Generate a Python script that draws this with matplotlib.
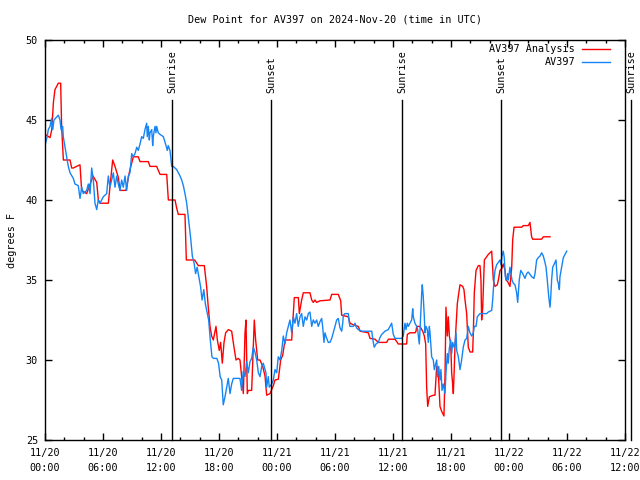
import numpy as np
import matplotlib
matplotlib.use("Agg")
import matplotlib.pyplot as plt
import matplotlib.dates as mdates

plt.rcParams["font.family"] = "DejaVu Sans Mono"
FS = 7.3

# Data =====================================================
START = np.datetime64("2024-11-20T00:00")

# hours since START, dew point in degrees F
analysis_hours = [
    0.0, 0.52, 0.7, 0.87, 1.03, 1.38, 1.62, 1.72, 1.9, 2.59,
    2.76, 2.93, 3.62, 3.79, 4.31, 4.97, 5.35, 5.52, 5.69, 6.55,
    6.72, 7.0, 7.24, 7.59, 7.76, 8.38, 8.62, 8.79, 8.97, 9.14,
    9.65, 9.83, 10.69, 10.86, 11.55, 11.9, 12.59, 12.76, 13.45, 13.62,
    13.79, 14.48, 14.62, 15.48, 15.86, 16.48, 16.72, 16.89, 17.07, 17.24,
    17.41, 17.69, 17.83, 18.03, 18.17, 18.34, 18.52, 18.69, 18.97, 19.31,
    19.55, 19.76, 20.0, 20.17, 20.34, 20.52, 20.69, 20.79, 20.93, 21.03,
    21.38, 21.55, 21.65, 21.79, 22.0, 22.24, 22.52, 22.76, 22.93, 23.28,
    23.62, 23.79, 24.14, 24.38, 24.59, 24.83, 25.52, 25.69, 25.79, 26.03,
    26.21, 26.31, 26.55, 26.72, 27.41, 27.59, 27.76, 27.93, 28.1, 28.45,
    29.48, 29.66, 30.34, 30.59, 30.69, 31.38, 31.55, 31.9, 32.41, 32.59,
    33.45, 33.62, 34.14, 34.48, 35.34, 35.52, 36.21, 36.55, 37.41, 37.48,
    37.76, 38.28, 38.38, 38.45, 38.79, 39.07, 39.24, 39.38, 39.48, 39.59,
    39.76, 40.17, 40.34, 40.52, 40.69, 40.86, 41.03, 41.27, 41.38, 41.48,
    41.62, 41.72, 41.83, 41.97, 42.07, 42.17, 42.24, 42.31, 42.41, 42.52,
    42.65, 42.76, 42.93, 43.21, 43.34, 43.45, 43.62, 43.79, 43.97, 44.24,
    44.31, 44.41, 44.59, 44.83, 45.0, 45.1, 45.17, 45.28, 45.45, 45.62,
    45.86, 46.21, 46.38, 46.55, 46.79, 46.9, 47.07, 47.24, 47.41, 47.59,
    47.69, 47.86, 48.1, 48.28, 48.38, 48.52, 49.31, 49.48, 50.0, 50.17,
    50.34, 50.45, 51.38, 51.55, 52.24,
]
analysis_dewpt = [
    44.1, 43.9, 44.4, 46.1, 46.9, 47.3, 47.3, 44.6, 42.5, 42.5,
    42.0, 42.0, 42.2, 40.6, 40.4, 41.5, 41.1, 40.0, 39.8, 39.8,
    40.8, 42.5, 42.1, 41.4, 40.6, 40.6, 41.4, 41.9, 42.3, 42.7,
    42.7, 42.4, 42.4, 42.1, 42.1, 41.6, 41.6, 40.0, 40.0, 39.5,
    39.1, 39.1, 36.25, 36.25, 35.9, 35.9, 34.6, 33.3, 32.1, 31.5,
    31.25, 32.1, 31.25, 30.6, 31.1, 29.8, 31.1, 31.7, 31.9, 31.8,
    30.8, 30.0, 30.1, 30.0, 29.0, 27.9, 31.7, 32.5, 27.9, 28.1,
    28.1, 30.8, 32.5, 31.25, 30.0, 30.0, 29.6, 29.0, 27.8, 27.9,
    28.4, 28.75, 28.8, 30.0, 30.3, 31.25, 31.25, 32.9, 33.9, 33.9,
    33.9, 32.9, 33.75, 34.2, 34.2, 33.75, 33.6, 33.75, 33.6, 33.7,
    33.75, 34.1, 34.1, 33.7, 32.8, 32.7, 32.3, 32.2, 32.1, 31.8,
    31.7, 31.35, 31.3, 31.1, 31.1, 31.3, 31.3, 31.0, 31.0, 31.6,
    31.7, 31.7, 31.8, 32.1, 32.1, 31.8, 31.5, 31.0, 28.3, 27.1,
    27.7, 27.8, 27.8, 29.6, 29.2, 27.1, 26.8, 26.5, 29.0, 33.3,
    31.5, 32.7, 31.5, 31.0, 29.2, 28.5, 27.9, 29.0, 30.8, 32.1,
    33.5, 34.0, 34.7, 34.6, 34.4, 33.75, 32.9, 30.8, 30.5, 30.5,
    31.7, 34.2, 35.6, 35.9, 35.9, 35.0, 32.5, 33.3, 36.25, 36.4,
    36.6, 36.8, 35.0, 34.6, 34.7, 35.0, 35.6, 35.7, 36.0, 35.6,
    35.0, 34.9, 34.6, 35.8, 37.5, 38.3, 38.3, 38.4, 38.4, 38.6,
    37.7, 37.55, 37.55, 37.7, 37.7,
]

station_hours = [
    0.0, 0.24, 0.34, 0.52, 0.69, 0.80, 0.93, 1.38, 1.55, 1.66,
    1.83, 1.89, 2.07, 2.24, 2.41, 2.59, 2.93, 3.10, 3.44, 3.62,
    3.80, 3.96, 4.31, 4.48, 4.66, 4.83, 5.0, 5.17, 5.35, 5.51,
    5.69, 6.03, 6.38, 6.55, 6.72, 6.90, 7.07, 7.24, 7.42, 7.58,
    7.76, 7.93, 8.10, 8.28, 8.45, 8.62, 8.79, 8.97, 9.13, 9.31,
    9.49, 9.65, 9.83, 10.0, 10.17, 10.34, 10.52, 10.58, 10.69, 10.79,
    10.86, 11.04, 11.14, 11.2, 11.38, 11.48, 11.55, 11.72, 11.9, 12.24,
    12.52, 12.65, 12.75, 12.93, 13.11, 13.27, 13.62, 13.97, 14.14, 14.31,
    14.48, 14.66, 14.82, 15.07, 15.24, 15.41, 15.58, 15.74, 15.92, 16.09,
    16.25, 16.43, 16.59, 16.93, 17.1, 17.27, 17.44, 17.78, 17.95, 18.12,
    18.28, 18.44, 18.62, 18.80, 18.96, 19.14, 19.31, 19.48, 20.17, 20.34,
    20.51, 20.69, 20.86, 21.03, 21.21, 21.38, 21.55, 21.72, 21.90, 22.07,
    22.24, 22.42, 22.58, 22.86, 22.93, 23.1, 23.2, 23.45, 23.62, 23.79,
    23.97, 24.13, 24.31, 24.49, 24.65, 24.83, 25.0, 25.17, 25.34, 25.52,
    25.69, 25.86, 26.03, 26.20, 26.38, 26.55, 26.72, 26.90, 27.07, 27.24,
    27.41, 27.59, 27.75, 27.93, 28.1, 28.27, 28.45, 28.62, 28.72, 28.86,
    28.96, 29.14, 29.31, 29.48, 29.66, 29.82, 30.0, 30.17, 30.34, 30.52,
    30.69, 30.80, 30.86, 31.03, 31.38, 31.48, 31.55, 31.9, 32.07, 32.24,
    32.41, 32.76, 33.80, 33.96, 34.06, 34.24, 34.48, 34.65, 34.83, 35.17,
    35.51, 35.69, 35.86, 36.03, 36.21, 36.90, 37.06, 37.24, 37.34, 37.48,
    37.58, 37.76, 37.93, 38.04, 38.1, 38.27, 38.45, 38.55, 38.72, 38.79,
    38.97, 39.03, 39.13, 39.24, 39.31, 39.41, 39.55, 39.65, 39.76, 39.83,
    40.0, 40.17, 40.27, 40.52, 40.62, 40.73, 40.86, 40.96, 41.07, 41.2,
    41.38, 41.48, 41.62, 41.72, 41.82, 41.97, 42.07, 42.17, 42.31, 42.41,
    42.52, 42.59, 42.76, 42.93, 43.10, 43.27, 43.45, 43.62, 43.79, 43.96,
    44.14, 44.31, 44.41, 44.59, 44.72, 45.0, 45.69, 45.86, 46.21, 46.31,
    46.45, 46.55, 46.73, 46.90, 47.07, 47.17, 47.27, 47.41, 47.51, 47.62,
    47.76, 47.86, 47.93, 48.10, 48.21, 48.31, 48.44, 48.62, 48.79, 48.90,
    49.06, 49.21, 49.42, 49.65, 49.83, 49.99, 50.35, 50.58, 50.69, 50.86,
    51.03, 51.21, 51.38, 51.55, 51.72, 51.83, 51.96, 52.11, 52.24, 52.31,
    52.41, 52.52, 52.65, 52.86, 53.0, 53.1, 53.21, 53.27, 53.45, 53.62,
    53.79, 53.97,
]
station_dewpt = [
    43.4, 44.0, 44.4, 44.6, 45.1, 44.4, 45.0, 45.3, 45.0, 44.4,
    44.6, 43.96, 43.3, 42.7, 42.1, 41.7, 41.35, 41.0, 40.9, 40.1,
    40.8, 40.4, 40.6, 41.0, 40.4, 42.0, 41.25, 39.8, 39.4, 40.0,
    39.8, 40.2, 40.4, 41.5, 40.8, 41.25, 41.7, 40.8, 41.5, 41.0,
    40.6, 41.25, 40.8, 41.5, 40.6, 41.5, 41.7, 42.9, 42.7, 42.9,
    43.3, 43.1, 43.5, 43.96, 43.85, 44.4, 44.8, 43.96, 44.6, 43.75,
    44.2, 44.4, 43.4, 43.96, 44.6, 44.2, 44.6, 44.2, 44.1, 43.96,
    43.4, 43.1, 43.4, 43.1, 42.1, 42.1, 41.9, 41.5, 41.25, 40.9,
    40.4, 39.8, 38.96, 37.6, 36.5, 36.1, 35.4, 35.8, 35.2, 34.6,
    33.75, 34.4, 33.5, 32.5, 31.25, 30.2, 30.1, 30.1, 29.8, 28.96,
    28.75, 27.2, 27.7, 28.3, 28.85, 27.9, 28.5, 28.85, 28.85, 28.1,
    29.3, 28.96, 29.9, 29.2, 29.9, 30.1, 30.8, 30.5, 30.0, 29.2,
    28.96, 29.6, 29.8, 29.2, 28.3, 28.96, 28.3, 28.5, 28.75, 29.4,
    29.2, 30.2, 30.0, 30.6, 31.5, 31.0, 31.7, 32.1, 32.5, 31.7,
    32.7, 32.3, 32.9, 32.1, 32.7, 32.9, 32.1, 32.7, 32.5, 32.9,
    33.0, 32.1, 32.5, 32.3, 32.5, 32.1, 32.4, 32.6, 32.1, 31.1,
    31.7, 31.35, 31.1, 31.1, 31.35, 31.7, 32.1, 32.5, 32.6, 32.0,
    31.8, 32.3, 32.8, 32.9, 32.9, 32.3, 32.1, 32.1, 32.3, 32.0,
    31.9, 31.8, 31.8, 31.1, 30.8, 31.0, 31.1, 31.4, 31.6, 31.8,
    31.9, 32.1, 32.3, 31.6, 31.35, 31.35, 31.5, 32.3, 31.9, 32.3,
    32.1, 32.3, 32.5, 33.2, 32.7, 32.3, 32.1, 31.9, 31.0, 31.8,
    34.2, 34.7, 33.96, 32.7, 31.7, 32.1, 31.9, 31.1, 32.1, 31.7,
    30.2, 30.0, 29.4, 30.0, 28.96, 29.6, 28.75, 29.4, 28.1, 28.5,
    27.9, 29.2, 30.4, 29.8, 30.7, 31.25, 30.4, 31.1, 30.8, 31.0,
    31.7, 30.6, 30.2, 29.4, 30.0, 30.8, 31.25, 31.35, 32.1, 31.7,
    31.5, 31.7, 32.1, 32.1, 32.7, 32.9, 32.9, 33.0, 33.1, 33.75,
    35.0, 35.6, 35.96, 36.1, 36.25, 35.96, 36.5, 36.8, 36.4, 35.2,
    35.0, 35.4, 35.0, 35.8, 35.4, 35.0, 34.8, 34.7, 34.2, 33.6,
    35.0, 35.6, 35.4, 35.1, 35.4, 35.5, 35.2, 35.1, 35.4, 36.25,
    36.4, 36.5, 36.7, 36.5, 36.1, 35.8, 35.0, 33.96, 33.3, 33.85,
    35.0, 35.8, 35.96, 36.25, 35.0, 34.8, 34.4, 35.2, 35.8, 36.4,
    36.6, 36.8,
]

sun_labels = ["Sunrise", "Sunset", "Sunrise", "Sunset", "Sunrise"]
sun_times = ["2024-11-20T13:10", "2024-11-20T23:25", "2024-11-21T12:58",
             "2024-11-21T23:12", "2024-11-22T12:37"]

# ==========================================================


def to_time(hours):
    secs = np.round(np.array(hours) * 3600).astype("int64")
    return START + secs.astype("timedelta64[s]")


fig = plt.figure(figsize=(6.4, 4.8), dpi=100)
ax = fig.add_axes([45 / 640, 40 / 480, 580 / 640, 400 / 480])

ax.plot(to_time(analysis_hours), analysis_dewpt, color="#ff0000", lw=1.0)
ax.plot(to_time(station_hours), station_dewpt, color="#1585f5", lw=1.0)

for label, t in zip(sun_labels, sun_times):
    t = np.datetime64(t)
    ax.axvline(t, ymin=0, ymax=0.85, color="black", lw=1.0, clip_on=False)
    ax.text(t, 0.8675, label, transform=ax.get_xaxis_transform(),
            rotation=90, ha="center", va="bottom", fontsize=FS, clip_on=False)

# legend drawn gnuplot-style (text right aligned, sample on the right)
for name, color, yy in [("AV397 Analysis", "#ff0000", 0.9775),
                        ("AV397", "#1585f5", 0.945)]:
    ax.text(0.914, yy, name, transform=ax.transAxes, ha="right",
            va="center", fontsize=FS)
    ax.plot([0.926, 0.974], [yy, yy], transform=ax.transAxes,
            color=color, lw=1.0)

ax.set_xlim(np.datetime64("2024-11-20T00:00"), np.datetime64("2024-11-22T12:00"))
ax.set_ylim(25, 50)
ax.set_yticks([25, 30, 35, 40, 45, 50])
ax.xaxis.set_major_locator(mdates.HourLocator(byhour=[0, 6, 12, 18]))
ax.xaxis.set_major_formatter(mdates.DateFormatter("%m/%d\n%H:%M"))
ax.xaxis.set_minor_locator(mdates.HourLocator(byhour=range(0, 24, 2)))

ax.tick_params(which="both", direction="in", top=True, right=True,
               labelsize=FS, width=1.0)
ax.tick_params(which="major", length=5)
ax.tick_params(which="minor", length=2.5)
ax.tick_params(axis="x", pad=6)
ax.tick_params(axis="y", pad=5)
for lab in ax.get_xticklabels():
    lab.set_linespacing(1.6)
for s in ax.spines.values():
    s.set_linewidth(1.0)

ax.set_ylabel("degrees F", fontsize=FS, labelpad=6)
ax.set_title("Dew Point for AV397 on 2024-Nov-20 (time in UTC)",
             fontsize=FS, pad=12.5)

fig.savefig("out.png", dpi=100)
